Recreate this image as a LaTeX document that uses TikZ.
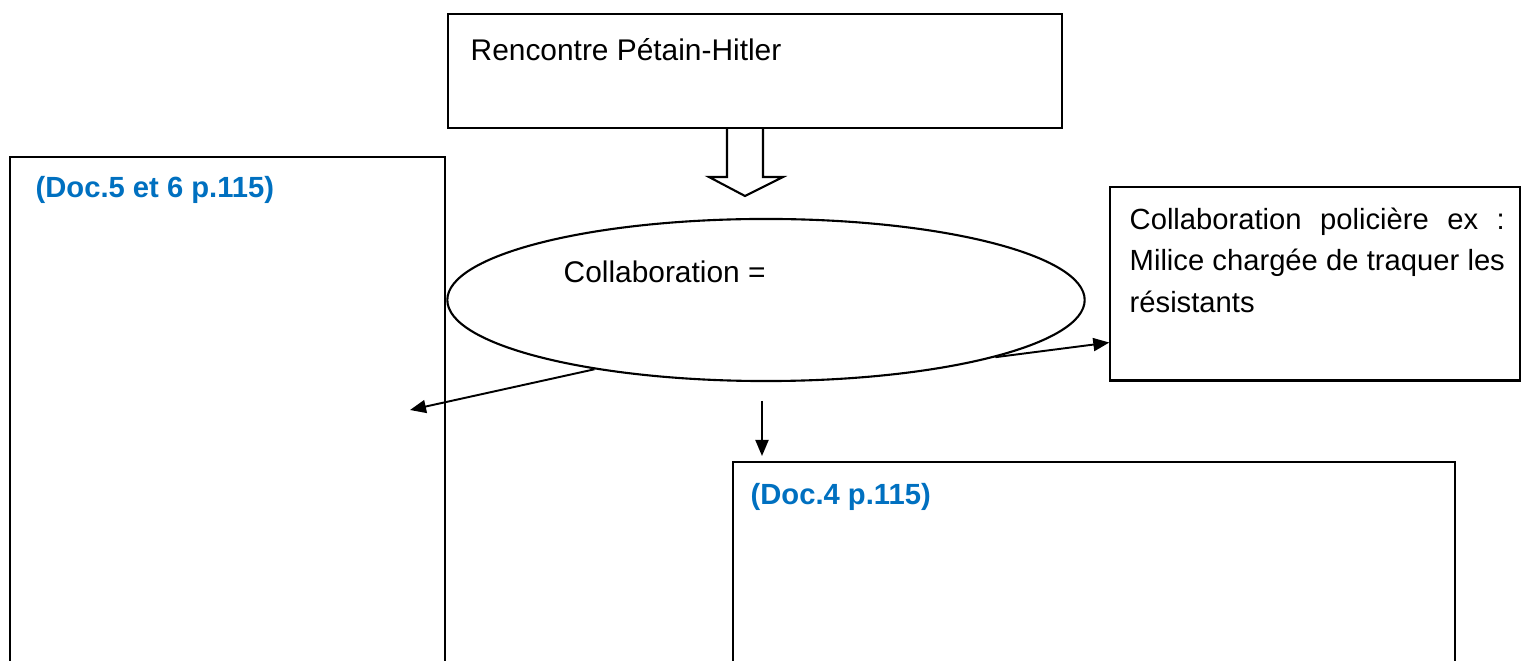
\documentclass[tikz,border=0pt]{standalone}
\usepackage{fontspec}
\setmainfont{Liberation Sans}
\usetikzlibrary{shapes.geometric,arrows.meta}
\definecolor{docblue}{RGB}{0,112,192}
\tikzset{
  box/.style={draw,line width=0.6pt,inner sep=0pt},
  txt/.style={anchor=west,inner sep=0pt},
  ref/.style={txt,text=docblue,font=\fontsize{8.3}{10}\selectfont\bfseries},
  arr/.style={-{Triangle[length=0.16cm,width=0.13cm]},line width=0.55pt}
}
\begin{document}
\begin{tikzpicture}[x=0.01cm,y=-0.01cm,font=\fontsize{8.5}{11.6}\selectfont]
\useasboundingbox (0,0) rectangle (1523,661);

% top box
\node[box,minimum width=6.14cm,minimum height=1.14cm] (meeting) at (755,71) {};
\node[txt] (meetingtxt) at (470,50) {Rencontre Pétain-Hitler};
\draw[line width=0.6pt] (727,128) -- (727,177) -- (709,177) -- (745,196) -- (783,177) -- (763,177) -- (763,128);

% ellipse
\node[box,ellipse,minimum width=6.37cm,minimum height=1.62cm] (collab) at (766,300) {};
\node[txt] (collabtxt) at (563,272) {Collaboration =};

% open boxes
\draw[line width=0.6pt] (10,661) |- (445,157) -- (445,661);
\node[ref] (doc56) at (35,190) {(Doc.5 et 6 p.115)};
\draw[line width=0.6pt] (733,661) |- (1455,462) -- (1455,661);
\node[ref] (doc4) at (750,497) {(Doc.4 p.115)};

% right box
\node[box,minimum width=4.09cm,minimum height=1.93cm] (police) at (1315,284) {};
\node[txt,anchor=north west,text width=3.75cm,align=justify,font=\fontsize{8.3}{11.8}\selectfont] (policetxt) at (1129,207)
  {Collaboration policière ex~: Milice chargée de traquer les résistants};

% arrows
\coordinate (lefttip) at (410,410);
\coordinate (downstart) at (762,401);
\coordinate (downtip) at (762,456);
\draw[arr] (collab.202) -- (lefttip);
\draw[arr] (collab.346) -- ([yshift=-0.585cm]police.west);
\draw[arr] (downstart) -- (downtip);

\end{tikzpicture}
\end{document}
